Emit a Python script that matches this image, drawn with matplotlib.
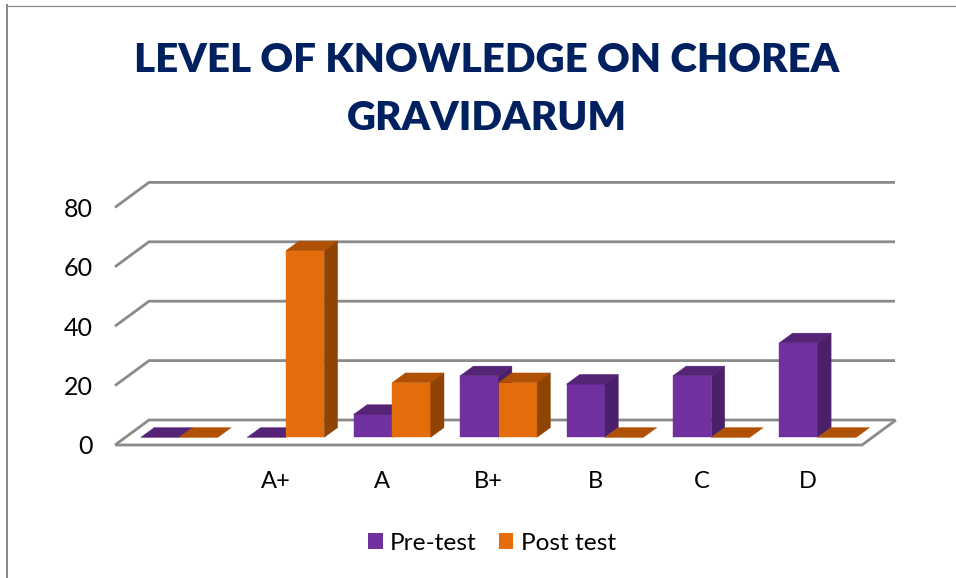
import matplotlib
matplotlib.use('Agg')
import matplotlib.pyplot as plt
from matplotlib.patches import Polygon, Patch

categories = ['', 'A+', 'A', 'B+', 'B', 'C', 'D']
pre_test = [0, 0, 7.7, 20.7, 17.9, 20.7, 31.8]
post_test = [0, 62.8, 18.4, 18.4, 0, 0, 0]
y_ticks = [0, 20, 40, 60, 80]

W, H = 956, 578
plt.rcParams['font.family'] = ['Lato', 'DejaVu Sans']

# pixel layout of the fake 3d box
PX_CAT = 106.4    # pixels per category
PX_VAL = 2.97     # pixels per unit
ORG_X, ORG_Y = 179.4, 437.3   # where category 0 / value 0 sit on the bar plane
L, R, B, T = 115, 895, 445, 182.5

fig = plt.figure(figsize=(W / 100, H / 100), dpi=100)
ax = fig.add_axes([L / W, 1 - B / H, (R - L) / W, (B - T) / H])
ax.set_xlim((L - ORG_X) / PX_CAT, (R - ORG_X) / PX_CAT)
ax.set_ylim((ORG_Y - B) / PX_VAL, (ORG_Y - T) / PX_VAL)
for s in ax.spines.values():
    s.set_visible(False)
ax.patch.set_visible(False)

y0 = ax.get_ylim()[0]
x0 = ax.get_xlim()[0]
wall_dx = 34 / PX_CAT
wall_dy = 25 / PX_VAL
x_right = (862 - ORG_X) / PX_CAT
grid_c = '#8a8a8a'

# walls and floor
for v in y_ticks:
    yy = y0 + v
    ax.plot([x0, x0 + wall_dx, ax.get_xlim()[1]], [yy, yy + wall_dy, yy + wall_dy],
            color=grid_c, lw=2, clip_on=False, zorder=1, solid_joinstyle='miter', solid_capstyle='butt')
ax.plot([x0, x_right, x_right + wall_dx], [y0, y0, y0 + wall_dy],
        color=grid_c, lw=2, clip_on=False, zorder=1, solid_joinstyle='miter', solid_capstyle='butt')

# bars
bar_w = 38.5 / PX_CAT
dx = 13.3 / PX_CAT
dy = 9.7 / PX_VAL


def draw_bar(x, val, face, top, side, z):
    # x is the left edge of the front face
    ax.bar(x, val, bar_w, align='edge', color=face, edgecolor=face, lw=0.3, zorder=z)
    ax.add_patch(Polygon([(x, val), (x + bar_w, val), (x + bar_w + dx, val + dy), (x + dx, val + dy)],
                         closed=True, facecolor=top, edgecolor=top, lw=0.3, zorder=z, clip_on=False))
    if val > 0:
        ax.add_patch(Polygon([(x + bar_w, 0), (x + bar_w + dx, dy), (x + bar_w + dx, val + dy), (x + bar_w, val)],
                             closed=True, facecolor=side, edgecolor=side, lw=0.3, zorder=z, clip_on=False))


for i in range(len(categories)):
    draw_bar(i - bar_w, pre_test[i], '#7030a0', '#552476', '#4a2069', 3 + i * 2)
    draw_bar(i, post_test[i], '#e46c0a', '#b05004', '#8f4403', 4 + i * 2)

# ticks sit on the front edge of the box
ax.set_yticks([y0 + v for v in y_ticks])
ax.set_yticklabels([str(v) for v in y_ticks], fontsize=18, color='black')
ax.set_xticks([i - 10 / PX_CAT for i in range(len(categories))])
ax.set_xticklabels(categories, fontsize=17, color='black')
ax.tick_params(axis='y', length=0, pad=16)
ax.tick_params(axis='x', length=0, pad=19)

fig.text(487 / W, 1 - 61 / H, 'LEVEL OF KNOWLEDGE ON CHOREA', ha='center', va='center',
         fontsize=29, fontweight='heavy', color='#002060')
fig.text(487 / W, 1 - 119 / H, 'GRAVIDARUM', ha='center', va='center',
         fontsize=29, fontweight='heavy', color='#002060')

handles = [Patch(facecolor='#7030a0', label='Pre-test'), Patch(facecolor='#e46c0a', label='Post test')]
fig.legend(handles=handles, loc='center', bbox_to_anchor=(492 / W, 1 - 543 / H), ncol=2, frameon=False,
           fontsize=17.6, handlelength=0.6, handleheight=0.6, handletextpad=0.3, columnspacing=0.9)

# chart frame, only top and left edges are inside the crop
fig.add_artist(plt.Line2D([7 / W, 7 / W], [0, 1 - 5 / H], color='#8a8a8a', lw=1.44))
fig.add_artist(plt.Line2D([6 / W, 1], [1 - 5.5 / H, 1 - 5.5 / H], color='#8a8a8a', lw=0.9))

fig.savefig('out.png', dpi=100)
